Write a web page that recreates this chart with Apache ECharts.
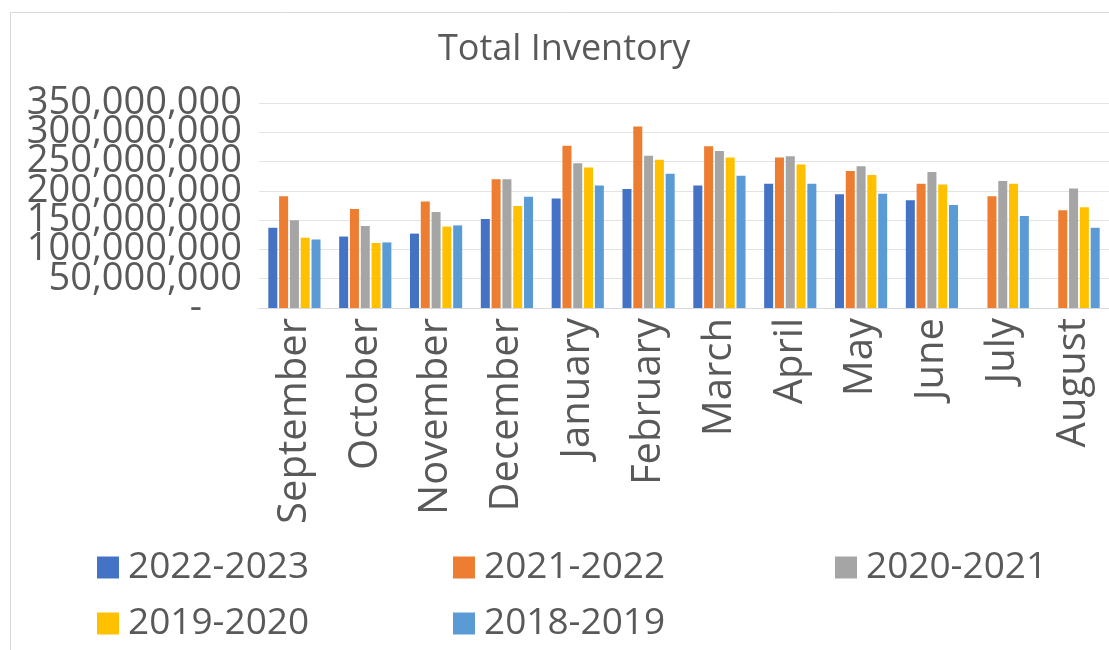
<!DOCTYPE html>
<html>
<head>
<meta charset="utf-8">
<script src="https://cdn.jsdelivr.net/npm/echarts@6/dist/echarts.min.js"></script>
<style>
  html, body { margin: 0; padding: 0; background: #fff; }
  #chart { width: 1109px; height: 650px; }
</style>
</head>
<body>
<div id="chart"></div>
<script>
// months of the inventory year
var months = ['September', 'October', 'November', 'December', 'January', 'February',
              'March', 'April', 'May', 'June', 'July', 'August'];

// inventory per season
var s2022_2023 = [137e6, 122e6, 127e6, 152e6, 187e6, 203e6, 209e6, 212e6, 194e6, 184e6, null, null];
var s2021_2022 = [191e6, 169e6, 182e6, 220e6, 277e6, 310e6, 276e6, 257e6, 234e6, 212e6, 191e6, 167e6];
var s2020_2021 = [150e6, 140e6, 164e6, 220e6, 247e6, 260e6, 268e6, 259e6, 242e6, 232e6, 217e6, 204e6];
var s2019_2020 = [120e6, 111e6, 139e6, 174e6, 240e6, 253e6, 257e6, 245e6, 227e6, 211e6, 212e6, 172e6];
var s2018_2019 = [117e6, 112e6, 141e6, 190e6, 209e6, 229e6, 226e6, 212e6, 195e6, 176e6, 157e6, 137e6];

var seriesNames = ['2022-2023', '2021-2022', '2020-2021', '2019-2020', '2018-2019'];
var seriesColors = ['#4472C4', '#ED7D31', '#A5A5A5', '#FFC000', '#5B9BD5'];
var seriesData = [s2022_2023, s2021_2022, s2020_2021, s2019_2020, s2018_2019];

var yMin = 0;
var yMax = 350000000;
var yStep = 50000000;

var textColor = '#595959';
var fontName = 'Open Sans';

var series = [];
for (var i = 0; i < seriesNames.length; i++) {
	series.push({
		name: seriesNames[i],
		type: 'bar',
		data: seriesData[i],
		barWidth: 9,
		barGap: '20%',
		itemStyle: {color: seriesColors[i]}
	});
}

// one legend per item so the two-row, three-column layout sits where it should
var legendPos = [[92, 544], [448, 544], [830, 544], [92, 600], [448, 600]];
var legends = [];
for (var j = 0; j < seriesNames.length; j++) {
	legends.push({
		data: [seriesNames[j]],
		left: legendPos[j][0],
		top: legendPos[j][1],
		icon: 'rect',
		itemWidth: 22,
		itemHeight: 22,
		itemGap: 0,
		textStyle: {color: textColor, fontSize: 37, fontFamily: fontName, padding: [0, 0, 0, 4]}
	});
}

function yLabel(value){
	if (value === 0) return '{z|-}';
	return echarts.format.addCommas(value);
}

var yLabelBase = {
	margin: 17,
	color: textColor,
	fontSize: 38,
	fontFamily: fontName,
	rich: {z: {padding: [0, 40, 0, 0], color: textColor, fontSize: 38, fontFamily: fontName}}
};

var myChart = echarts.init(document.getElementById('chart'), null, {renderer: 'canvas'});
var option = {
	animation: false,
	backgroundColor: '#fff',
	title: {
		text: 'Total Inventory',
		left: 433,
		top: 27,
		textStyle: {color: textColor, fontSize: 36, fontWeight: 'normal', fontFamily: fontName}
	},
	graphic: [{
		type: 'rect',
		shape: {x: 10.5, y: 12.5, width: 1120, height: 660},
		style: {fill: 'none', stroke: '#d9d9d9', lineWidth: 1},
		silent: true
	}],
	legend: legends,
	grid: {left: 259, right: 0, top: 103, bottom: 342},
	xAxis: {
		type: 'category',
		data: months,
		axisLine: {lineStyle: {color: '#d9d9d9'}},
		axisTick: {show: false},
		axisLabel: {
			rotate: 90,
			interval: 0,
			margin: 10,
			color: textColor,
			fontSize: 40,
			fontFamily: fontName
		}
	},
	// the labels sit tight, so the inner ones and the end ones come from two stacked axes
	yAxis: [{
		type: 'value',
		min: yMin,
		max: yMax,
		interval: yStep,
		axisLine: {show: false},
		axisTick: {show: false},
		splitLine: {lineStyle: {color: '#e3e3e3', width: 1}},
		axisLabel: Object.assign({}, yLabelBase, {
			showMinLabel: false,
			showMaxLabel: false,
			formatter: yLabel
		})
	}, {
		type: 'value',
		position: 'left',
		min: yMin,
		max: yMax,
		interval: yStep,
		axisLine: {show: false},
		axisTick: {show: false},
		splitLine: {show: false},
		axisLabel: Object.assign({}, yLabelBase, {
			showMinLabel: true,
			showMaxLabel: true,
			formatter: function(value){
				return (value === yMin || value === yMax) ? yLabel(value) : '';
			}
		})
	}],
	series: series
};
myChart.setOption(option);
</script>
</body>
</html>
